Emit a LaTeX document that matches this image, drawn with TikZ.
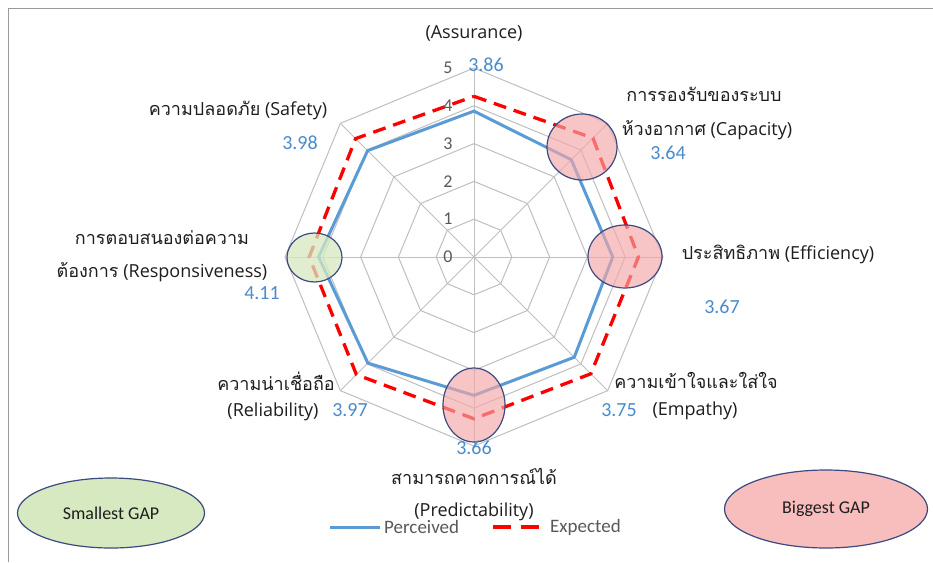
\documentclass[tikz,border=0pt]{standalone}
\usepackage{fontspec}
\usetikzlibrary{shapes.geometric}
\setmainfont{Open Sans}
\newfontfamily\thai[Script=Thai]{Loma}
\newfontfamily\calib{Carlito}
\definecolor{gridgray}{HTML}{BFBFBF}
\definecolor{percblue}{HTML}{5B9BD5}
\definecolor{numblue}{HTML}{4A8CCB}
\definecolor{expred}{HTML}{FF0000}
\definecolor{txt}{HTML}{1E1E1E}
\definecolor{axisnum}{HTML}{595959}
\definecolor{gapedge}{HTML}{3C4A82}
\definecolor{pinkfill}{HTML}{F4A7A7}
\definecolor{pinkkey}{HTML}{F8BDBD}
\definecolor{greenfill}{HTML}{D6E9C0}
\definecolor{framegray}{HTML}{9A9A9A}
\tikzset{
  gridline/.style={draw=gridgray, line width=1pt},
  perceived/.style={draw=percblue, line width=3pt, line join=miter},
  expected/.style={draw=expred, line width=3.3pt, dash pattern=on 13pt off 8pt},
  label/.style={text=txt, font=\fontsize{18}{20}\selectfont, inner sep=0pt},
  value/.style={text=numblue, font=\calib\fontsize{20}{22}\selectfont, inner sep=0pt},
  axis/.style={text=axisnum, font=\calib\fontsize{18}{20}\selectfont, inner sep=0pt},
  biggap/.style={draw=gapedge, line width=1.2pt, fill=pinkfill, fill opacity=0.65},
  smallgap/.style={draw=gapedge, line width=1.2pt, fill=greenfill, fill opacity=0.75},
  keytext/.style={text=txt, font=\calib\fontsize{18}{20}\selectfont, text opacity=1, fill opacity=1},
  legendtext/.style={text=axisnum, font=\calib\fontsize{19}{21}\selectfont, inner sep=0pt},
}
\begin{document}
\begin{tikzpicture}[x=1pt, y=-1pt]
\useasboundingbox (0,0) rectangle (933,562);
\fill[white] (0,0) rectangle (933,562);
% frame
\draw[framegray, line width=1.5pt] (8.5,562) -- (8.5,8.5) -- (933,8.5);

% radar chart, centred, one unit per scale step
\begin{scope}[shift={(474,257)}, x=37.8pt, y=37.8pt]
  \coordinate (c) at (0,0);
  \foreach \k in {1,...,5}
    \draw[gridline] (90:\k) \foreach \a in {45,0,-45,-90,-135,-180,-225} { -- (\a:\k) } -- cycle;
  \foreach \a in {90,45,0,-45,-90,-135,180,135}
    \draw[gridline] (c) -- (\a:5);
  % expected
  \draw[expected] (90:4.25) -- (45:4.45) -- (0:4.35) -- (-45:4.37) -- (-90:4.28)
    -- (-135:4.40) -- (180:4.36) -- (135:4.43) -- cycle;
  % perceived
  \draw[perceived] (90:3.86) -- (45:3.64) -- (0:3.67) -- (-45:3.75) -- (-90:3.66)
    -- (-135:3.97) -- (180:4.11) -- (135:3.98) -- cycle;
\end{scope}

% axis scale
\foreach \k/\yy in {0/257,1/219.2,2/181.4,3/143.6,4/105.8,5/68}
  \node[axis] (s\k) at (448,\yy) {\k};

% gap markers
\path[biggap] (582,147) ellipse [x radius=35, y radius=33];
\path[biggap] (625,256.5) ellipse [x radius=37, y radius=31.5];
\path[biggap] (474,405) ellipse [x radius=31, y radius=37];
\path[smallgap] (314.5,257.5) ellipse [x radius=27.5, y radius=24.5];

% axis labels
\node[label] (assur) at (474,33) {(Assurance)};
\node[value] (vassur) at (486,65) {3.86};

\node[label] (cap1) at (704,94) {\thai การรองรับของระบบ};
\node[label] (cap2) at (707,130) {{\thai ห้วงอากาศ} (Capacity)};
\node[value] (vcap) at (668,153) {3.64};

\node[label] (eff) at (778,254) {{\thai ประสิทธิภาพ} (Efficiency)};
\node[value] (veff) at (722,307) {3.67};

\node[label] (emp1) at (696,380) {\thai ความเข้าใจและใส่ใจ};
\node[value] (vemp) at (619,410) {3.75};
\node[label] (emp2) at (695,411) {(Empathy)};

\node[value] (vpred) at (474,448) {3.66};
\node[label] (pred1) at (474,476) {\thai สามารถคาดการณ์ได้};
\node[label] (pred2) at (474,512) {(Predictability)};

\node[label] (rel1) at (276,381) {\thai ความน่าเชื่อถือ};
\node[label] (rel2) at (273,412) {(Reliability)};
\node[value] (vrel) at (350,410) {3.97};

\node[label] (resp1) at (162,238) {\thai การตอบสนองต่อความ};
\node[label] (resp2) at (162,272) {{\thai ต้องการ} (Responsiveness)};
\node[value] (vresp) at (262,293) {4.11};

\node[label] (safe) at (238,110) {{\thai ความปลอดภัย} (Safety)};
\node[value] (vsafe) at (300,143) {3.98};

% legend
\coordinate (lp1) at (330,527);
\coordinate (lp2) at (380,527);
\draw[perceived] (lp1) -- (lp2);
\node[legendtext, anchor=west] (lperc) at (384,527) {Perceived};
\coordinate (le1) at (493,527);
\coordinate (le2) at (540,527);
\draw[expected, dash pattern=on 18pt off 10pt] (le1) -- (le2);
\node[legendtext, anchor=west] (lexp) at (550,527) {Expected};

% gap key
\node[smallgap, ellipse, minimum width=187, minimum height=70, keytext] (small) at (111,513) {Smallest GAP};
\node[biggap, ellipse, minimum width=203, minimum height=78, keytext, fill=pinkkey] (big) at (826,509) {Biggest GAP};
\end{tikzpicture}
\end{document}
